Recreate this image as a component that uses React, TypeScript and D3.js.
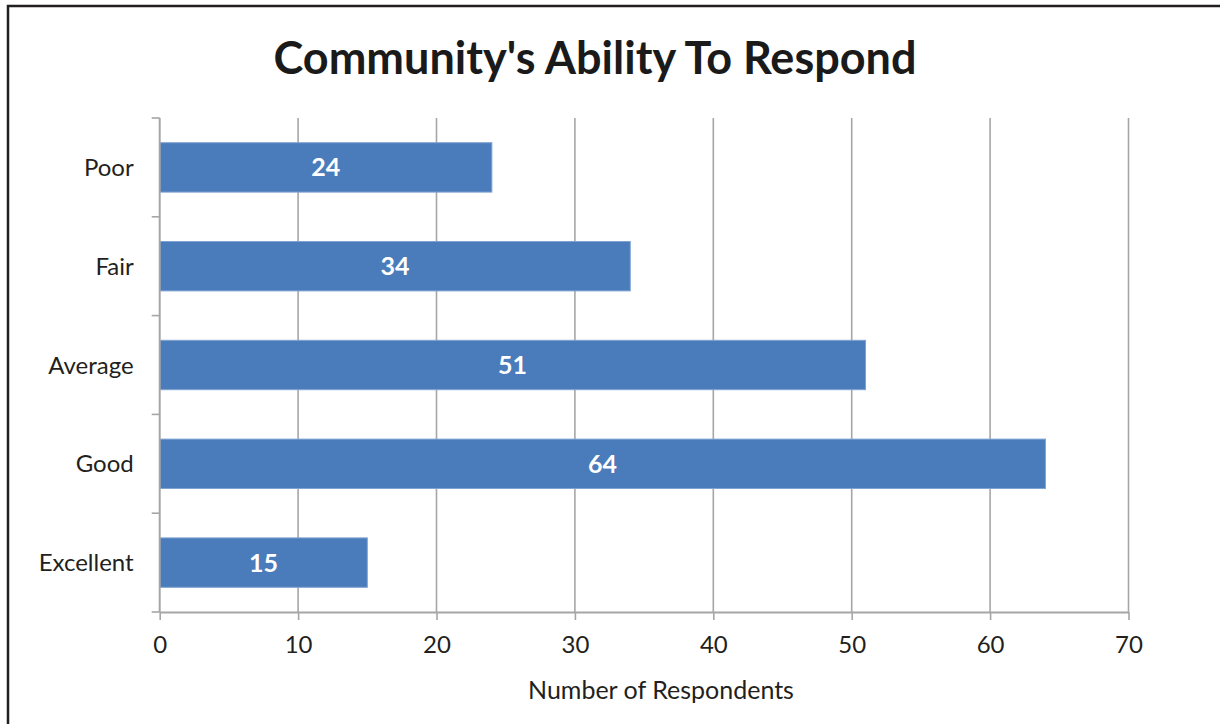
import { useEffect, useRef } from 'react';
import * as d3 from 'd3';

// Chart data
const categories = ['Poor', 'Fair', 'Average', 'Good', 'Excellent'];
const respondents = [24, 34, 51, 64, 15];
const xTicks = [0, 10, 20, 30, 40, 50, 60, 70];

const title = "Community's Ability To Respond";
const xAxisTitle = 'Number of Respondents';

const WIDTH = 1220;
const HEIGHT = 724;

export default function App() {
    const svgRef = useRef<SVGSVGElement>(null);

    useEffect(() => {
        document.body.style.margin = '0';
        if (!svgRef.current) return;
        const svg = d3.select(svgRef.current);
        svg.selectAll('*').remove();

        const font = 'Lato, "Open Sans", sans-serif';
        const gridColor = '#a6a6a6';

        // Plot area
        const left = 159.7;
        const right = 1128.5;
        const top = 118;
        const bottom = 612;

        const x = d3.scaleLinear().domain([0, 70]).range([left, right]);
        const y = d3.scaleBand<string>()
            .domain(categories)
            .range([top, bottom])
            .paddingInner(0.5)
            .paddingOuter(0.25);

        // Outer frame
        svg.append('rect')
            .attr('x', 8)
            .attr('y', 6)
            .attr('width', WIDTH)
            .attr('height', HEIGHT)
            .attr('fill', 'white')
            .attr('stroke', '#231f20')
            .attr('stroke-width', 2.5);

        // Title
        svg.append('text')
            .attr('x', 595)
            .attr('y', 74)
            .attr('text-anchor', 'middle')
            .style('font', `bold 45px ${font}`)
            .attr('fill', '#1a1a1a')
            .text(title);

        // Vertical gridlines
        svg.append('g')
            .selectAll('line')
            .data(xTicks.slice(1))
            .join('line')
            .attr('x1', d => x(d))
            .attr('x2', d => x(d))
            .attr('y1', top)
            .attr('y2', bottom)
            .attr('stroke', gridColor)
            .attr('stroke-width', 1.6);

        // Bars
        svg.append('g')
            .selectAll('rect')
            .data(categories)
            .join('rect')
            .attr('x', x(0))
            .attr('y', d => y(d)!)
            .attr('width', (d, i) => x(respondents[i]) - x(0))
            .attr('height', y.bandwidth())
            .attr('fill', '#4a7bbb')
            .attr('stroke', '#7fa3d3')
            .attr('stroke-width', 1);

        // Bar value labels
        svg.append('g')
            .selectAll('text')
            .data(categories)
            .join('text')
            .attr('x', (d, i) => (x(0) + x(respondents[i])) / 2)
            .attr('y', d => y(d)! + y.bandwidth() / 2)
            .attr('dy', '0.36em')
            .attr('text-anchor', 'middle')
            .style('font', `bold 25px ${font}`)
            .attr('fill', 'white')
            .text((d, i) => respondents[i]);

        // X axis
        const xAxis = svg.append('g')
            .attr('transform', `translate(0,${bottom})`)
            .call(d3.axisBottom(x).tickValues(xTicks).tickSize(8).tickSizeOuter(0).tickPadding(16));
        xAxis.select('.domain').attr('stroke', gridColor).attr('stroke-width', 2);
        xAxis.selectAll('.tick line').attr('stroke', gridColor).attr('stroke-width', 1.6);
        xAxis.selectAll('.tick text')
            .style('font', `24px ${font}`)
            .attr('fill', '#231f20');

        // Y axis with ticks between categories
        const boundaries = d3.range(categories.length + 1)
            .map(i => top + (i * (bottom - top)) / categories.length);
        svg.append('line')
            .attr('x1', left)
            .attr('x2', left)
            .attr('y1', top)
            .attr('y2', bottom)
            .attr('stroke', gridColor)
            .attr('stroke-width', 2);
        svg.append('g')
            .selectAll('line')
            .data(boundaries)
            .join('line')
            .attr('x1', left - 8)
            .attr('x2', left)
            .attr('y1', d => d)
            .attr('y2', d => d)
            .attr('stroke', gridColor)
            .attr('stroke-width', 1.6);

        svg.append('g')
            .selectAll('text')
            .data(categories)
            .join('text')
            .attr('x', left - 26)
            .attr('y', d => y(d)! + y.bandwidth() / 2)
            .attr('dy', '0.36em')
            .attr('text-anchor', 'end')
            .style('font', `24px ${font}`)
            .attr('fill', '#231f20')
            .text(d => d);

        // X axis title
        svg.append('text')
            .attr('x', 661)
            .attr('y', 699)
            .attr('text-anchor', 'middle')
            .style('font', `25px ${font}`)
            .attr('fill', '#231f20')
            .text(xAxisTitle);
    }, []);

    return <svg ref={svgRef} width={WIDTH} height={HEIGHT} style={{ display: 'block' }} />;
}
